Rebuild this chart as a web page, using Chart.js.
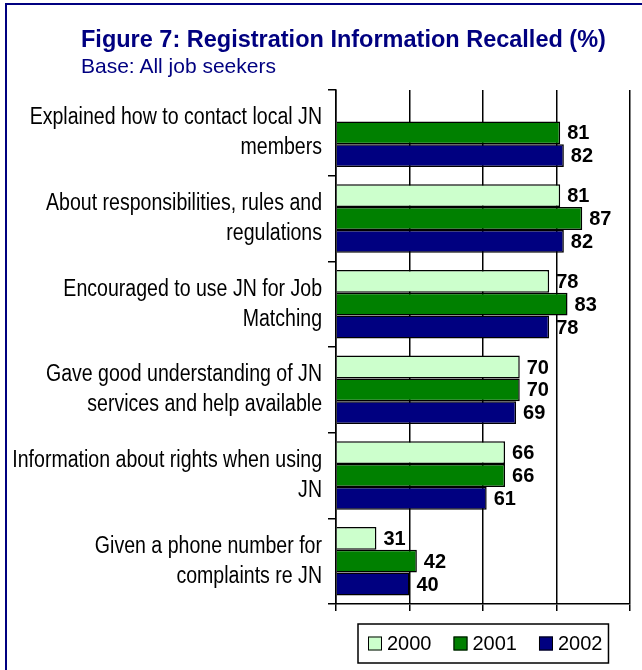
<!DOCTYPE html>
<html>
<head>
<meta charset="utf-8">
<script src="https://cdn.jsdelivr.net/npm/chart.js@4.4.1/dist/chart.umd.min.js"></script>
<style>
    html, body { margin: 0; padding: 0; background: #fff; overflow: hidden; }
    #wrap { position: relative; width: 642px; height: 670px; }
    #frame {
        position: absolute; left: 5px; top: 3px; width: 700px; height: 700px;
        border-left: 2.5px solid #000080; border-top: 2.5px solid #000080;
        pointer-events: none;
    }
    #title {
        position: absolute; left: 81px; top: 26px;
        font: bold 23.5px "Liberation Sans", Arial, sans-serif; color: #000080;
        white-space: nowrap;
    }
    #subtitle {
        position: absolute; left: 81px; top: 54px;
        font: 21px "Liberation Sans", Arial, sans-serif; color: #000080;
        white-space: nowrap;
    }
    canvas { position: absolute; left: 0; top: 0; }
</style>
</head>
<body>
<div id="wrap">
    <canvas id="chart" width="642" height="670"></canvas>
    <div id="frame"></div>
    <div id="title">Figure 7: Registration Information Recalled (%)</div>
    <div id="subtitle">Base: All job seekers</div>
</div>
<script>
// Chart data
const categories = [
    ['Explained how to contact local JN', 'members'],
    ['About responsibilities, rules and', 'regulations'],
    ['Encouraged to use JN for Job', 'Matching'],
    ['Gave good understanding of JN', 'services and help available'],
    ['Information about rights when using', 'JN'],
    ['Given a phone number for', 'complaints re JN']
];
const seriesNames = ['2000', '2001', '2002'];
const values2000 = [null, 81, 78, 70, 66, 31];
const values2001 = [81, 87, 83, 70, 66, 42];
const values2002 = [82, 82, 78, 69, 61, 40];
const axisTicks = [20, 40, 60, 80, 100];

const colors = ['#CCFFCC', '#008000', '#000080'];

// Category labels, drawn narrow (the original uses a condensed face)
const narrowLabels = {
    id: 'narrowLabels',
    afterDraw(chart) {
        const ctx = chart.ctx;
        const yScale = chart.scales.y;
        const right = chart.chartArea.left - 14;
        const squeeze = 0.85, lineH = 30;
        ctx.save();
        ctx.font = '23px "Liberation Sans", Arial, sans-serif';
        ctx.fillStyle = '#000';
        ctx.textAlign = 'right';
        ctx.textBaseline = 'middle';
        chart.data.labels.forEach((lines, i) => {
            const cy = yScale.getPixelForValue(i);
            const y0 = cy - (lines.length - 1) * lineH / 2;
            lines.forEach((line, k) => {
                ctx.save();
                ctx.translate(right, y0 + k * lineH);
                ctx.scale(squeeze, 1);
                ctx.fillText(line, 0, 0);
                ctx.restore();
            });
        });
        ctx.restore();
    }
};

// Value labels at the end of each bar
const valueLabels = {
    id: 'valueLabels',
    afterDatasetsDraw(chart) {
        const ctx = chart.ctx;
        ctx.save();
        ctx.font = 'bold 20px "Liberation Sans", Arial, sans-serif';
        ctx.fillStyle = '#000';
        ctx.textAlign = 'left';
        ctx.textBaseline = 'middle';
        chart.data.datasets.forEach((ds, i) => {
            chart.getDatasetMeta(i).data.forEach((bar, j) => {
                if (ds.data[j] === null) return;
                ctx.fillText(ds.data[j], bar.x + 7, bar.y + 1);
            });
        });
        ctx.restore();
    }
};

// Boxed legend under the plot
const boxLegend = {
    id: 'boxLegend',
    afterDraw(chart) {
        const ctx = chart.ctx;
        const area = chart.chartArea;
        ctx.save();
        ctx.font = '20px "Liberation Sans", Arial, sans-serif';
        const sq = 14, gapText = 5, gapItem = 22, padX = 10;
        let total = padX * 2 - 4;
        chart.data.datasets.forEach((ds, i) => {
            total += sq + gapText + ctx.measureText(ds.label).width;
            if (i < chart.data.datasets.length - 1) total += gapItem;
        });
        const cx = (area.left + area.right) / 2;
        const left = Math.round(cx - total / 2);
        const top = 624, h = 39;
        ctx.fillStyle = '#fff';
        ctx.fillRect(left, top, total, h);
        ctx.lineWidth = 1.5;
        ctx.strokeStyle = '#000';
        ctx.strokeRect(left, top, total, h);
        let x = left + padX;
        const cy = top + h / 2;
        ctx.textBaseline = 'middle';
        chart.data.datasets.forEach(ds => {
            ctx.fillStyle = ds.backgroundColor;
            ctx.fillRect(x, cy - sq / 2, sq, sq);
            ctx.lineWidth = 1;
            ctx.strokeRect(x + 0.5, cy - sq / 2 + 0.5, sq - 1, sq - 1);
            x += sq + gapText;
            ctx.fillStyle = '#000';
            ctx.fillText(ds.label, x, cy + 1);
            x += ctx.measureText(ds.label).width + gapItem;
        });
        ctx.restore();
    }
};

const ctx = document.getElementById('chart').getContext('2d');
const chart = new Chart(ctx, {
    type: 'bar',
    data: {
        labels: categories,
        datasets: [values2000, values2001, values2002].map((vals, i) => ({
            label: seriesNames[i],
            data: vals,
            backgroundColor: colors[i],
            borderColor: '#000',
            borderWidth: 1.5,
            base: axisTicks[0],
            categoryPercentage: 0.8,
            barPercentage: 1.0
        }))
    },
    options: {
        indexAxis: 'y',
        responsive: false,
        animation: false,
        events: [],
        layout: { padding: { top: 90, left: 0, right: 12, bottom: 59 } },
        plugins: {
            legend: { display: false },
            title: { display: false },
            tooltip: { enabled: false }
        },
        scales: {
            x: {
                min: axisTicks[0],
                max: axisTicks[axisTicks.length - 1],
                afterBuildTicks(scale) {
                    scale.ticks = axisTicks.map(v => ({ value: v }));
                },
                afterFit(scale) { scale.height = 7; },
                ticks: { display: false },
                grid: { color: '#000', lineWidth: 1.5, tickLength: 7 },
                border: { display: true, color: '#000', width: 1.5 }
            },
            y: {
                afterFit(scale) { scale.width = 336; },
                ticks: { display: false },
                grid: {
                    offset: true,
                    drawOnChartArea: false,
                    color: '#000',
                    lineWidth: 1.5,
                    tickLength: 8
                },
                border: { display: true, color: '#000', width: 1.5 }
            }
        }
    },
    plugins: [narrowLabels, valueLabels, boxLegend]
});
</script>
</body>
</html>
